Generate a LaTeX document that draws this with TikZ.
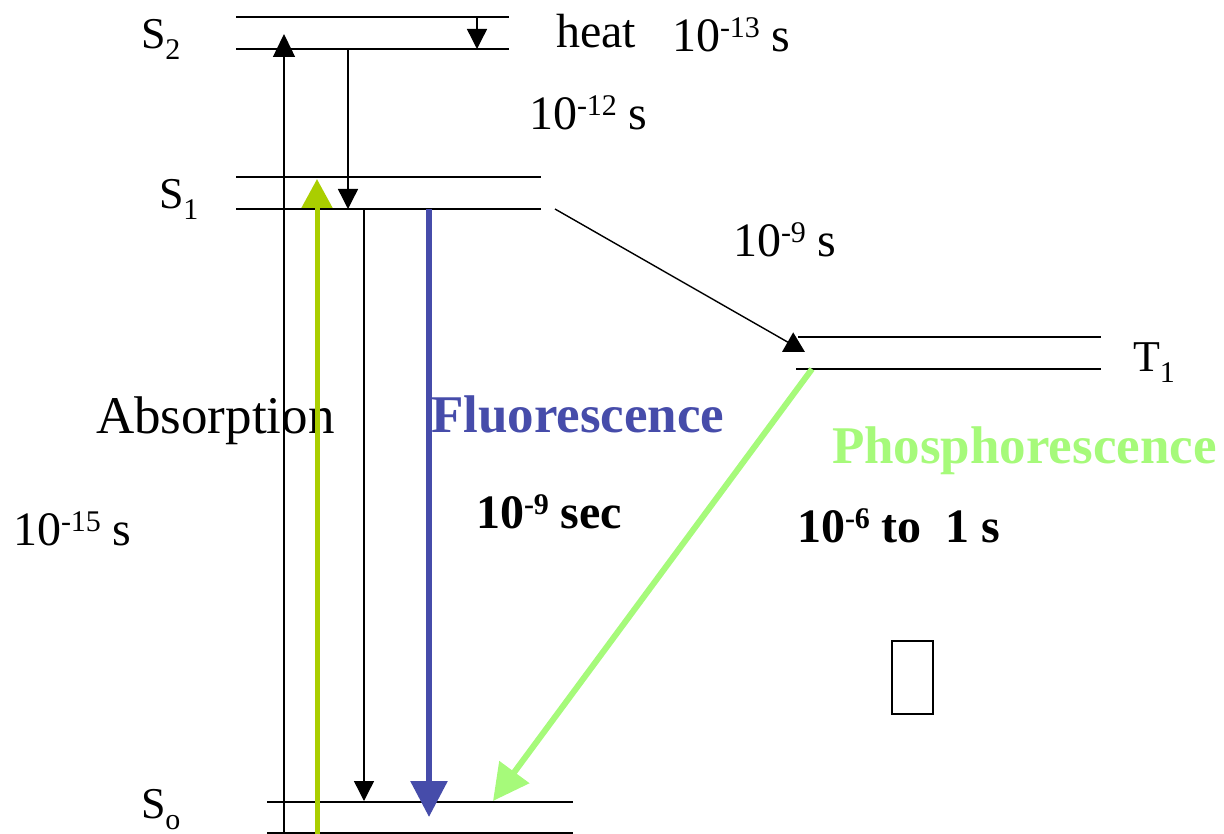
\documentclass[tikz,border=0pt]{standalone}
\usepackage{fontspec}
\setmainfont{Liberation Serif}
\usetikzlibrary{arrows.meta}
\definecolor{absgreen}{RGB}{170,206,0}
\definecolor{flblue}{RGB}{70,76,170}
\definecolor{phgreen}{RGB}{166,250,122}
\newcommand{\supx}[1]{\raisebox{14pt}{\fontsize{30}{30}\selectfont #1}}
\newcommand{\subx}[1]{\raisebox{-11pt}{\fontsize{30}{30}\selectfont #1}}
\newcommand{\fbig}{\fontsize{53}{56}\selectfont}
\newcommand{\fmid}{\fontsize{48}{52}\selectfont}
\newcommand{\flab}{\fontsize{44}{48}\selectfont}
\begin{document}
\begin{tikzpicture}[x=1pt,y=-1pt,
  level/.style={line width=1.8pt},
  txt/.style={anchor=base west,inner sep=0pt,outer sep=0pt},
  thinarrow/.style={line width=1.4pt,-{Triangle[length=20pt,width=20pt]}},
  bigarrow/.style={line width=1.4pt,-{Triangle[length=23pt,width=22pt]}}]
\useasboundingbox (0,0) rectangle (1224,834);
% labels (drawn first so the arrows pass over them)
\node[txt] (ls2) at (141,49) {\flab S\subx{2}};
\node[txt] (ls1) at (159,209) {\flab S\subx{1}};
\node[txt] (ls0) at (141,818) {\flab S\subx{o}};
\node[txt] (lt1) at (1133,372) {\flab T\subx{1}};
\node[txt] (lheat) at (556,48) {\fmid heat};
\node[txt] (l13) at (672,52) {\fmid 10\supx{-13} s};
\node[txt] (l12) at (529,130) {\fmid 10\supx{-12} s};
\node[txt] (l9) at (733,257) {\fmid 10\supx{-9} s};
\node[txt] (l15) at (13,545) {\fmid 10\supx{-15} s};
\node[txt] (labs) at (96,433) {\fbig Absorption};
\node[txt,text=flblue] (lfl) at (431,432) {\fbig\bfseries Fluorescence};
\node[txt,text=phgreen] (lph) at (832,463) {\fbig\bfseries Phosphorescence};
\node[txt] (lfs) at (476,528) {\fmid\bfseries 10\supx{-9} sec};
\node[txt] (lps) at (797,542) {\fmid\bfseries 10\supx{-6} to\ \ 1 s};
% levels
\draw[level] (236,17) -- (509,17);
\draw[level] (236,49) -- (509,49);
\draw[level] (236,177) -- (541,177);
\draw[level] (236,209) -- (541,209);
\draw[level] (798,337) -- (1101,337);
\draw[level] (796,369) -- (1101,369);
\draw[level] (267,802) -- (573,802);
\draw[level] (267,833) -- (573,833);
% coordinates
\coordinate (hA) at (477,17);
\coordinate (hB) at (477,49);
\coordinate (abA) at (284,834);
\coordinate (abB) at (284,34);
\coordinate (icA) at (348,49);
\coordinate (icB) at (348,209);
\coordinate (agA) at (317,834);
\coordinate (agB) at (317,179);
\coordinate (ncA) at (364,209);
\coordinate (ncB) at (364,801);
\coordinate (flA) at (429,209);
\coordinate (flB) at (429,817);
\coordinate (iscA) at (555,209);
\coordinate (iscB) at (805,352);
\coordinate (phA) at (812,369);
\coordinate (phB) at (493,801);
% arrows
\draw[thinarrow] (hA) -- (hB);
\draw[bigarrow] (abA) -- (abB);
\draw[thinarrow] (icA) -- (icB);
\draw[absgreen,line width=5pt,-{Triangle[length=29pt,width=30pt]}] (agA) -- (agB);
\draw[thinarrow] (ncA) -- (ncB);
\draw[flblue,line width=6pt,-{Triangle[length=36pt,width=36pt]}] (flA) -- (flB);
\draw[line width=1.4pt,-{Triangle[length=20pt,width=22pt]}] (iscA) -- (iscB);
\draw[phgreen,line width=6pt,-{Triangle[length=36pt,width=36pt]}] (phA) -- (phB);
% missing-glyph box
\draw[line width=1.8pt] (892,641) rectangle (933,714);
\end{tikzpicture}
\end{document}
